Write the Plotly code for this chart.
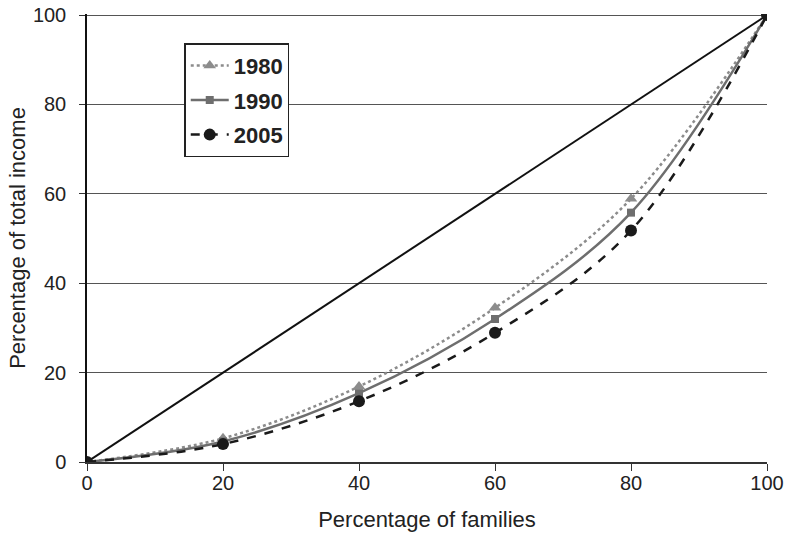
import plotly.graph_objects as go

families = [0, 20, 40, 60, 80, 100]
income_1980 = [0, 5.3, 16.9, 34.5, 58.9, 100]
income_1990 = [0, 4.6, 15.4, 32.0, 55.8, 100]
income_2005 = [0, 4.0, 13.6, 28.9, 51.8, 100]
equality = [0, 100]
tick_vals = [0, 20, 40, 60, 80, 100]

fig = go.Figure()
fig.add_trace(go.Scatter(x=equality, y=equality, mode="lines",
                         line=dict(color="#111111", width=2), showlegend=False, hoverinfo="skip"))
fig.add_trace(go.Scatter(x=families, y=income_1980, mode="lines+markers", name="<b>1980</b>",
                         legendgroup="a",
                         line=dict(color="#8c8c8c", width=2.5, dash="dot", shape="spline"),
                         marker=dict(symbol="triangle-up", size=11, color="#8c8c8c")))
fig.add_trace(go.Scatter(x=families, y=income_1990, mode="lines+markers", name="<b>1990</b>",
                         legendgroup="b",
                         line=dict(color="#6e6e6e", width=2.5, shape="spline"),
                         marker=dict(symbol="square", size=8, color="#6e6e6e")))
fig.add_trace(go.Scatter(x=families, y=income_2005, mode="lines+markers", name="<b>2005</b>",
                         legendgroup="c",
                         line=dict(color="#1a1a1a", width=2.5, dash="dash", shape="spline"),
                         marker=dict(symbol="circle", size=12, color="#1a1a1a")))

tick_font = dict(family="Liberation Sans, Arial, sans-serif", size=20, color="#222222")
title_font = dict(family="Liberation Sans, Arial, sans-serif", size=22, color="#222222")
fig.update_layout(
    width=787, height=533,
    margin=dict(l=87, r=20, t=14, b=71),
    paper_bgcolor="white", plot_bgcolor="white",
    font=tick_font,
    legend=dict(x=0.143, y=0.935, xanchor="left", yanchor="top",
                bgcolor="white", bordercolor="#222222", borderwidth=1.5,
                font=dict(family="Liberation Sans, Arial, sans-serif", size=22, color="#222222"),
                itemwidth=38, traceorder="grouped", tracegroupgap=3),
    xaxis=dict(range=[0, 100], tickvals=tick_vals, showgrid=False, automargin=False,
               showline=True, linecolor="#333333", linewidth=1.5, ticks="outside",
               ticklen=7, tickcolor="#333333", zeroline=False,
               tickfont=tick_font, ticklabelstandoff=-5, ticklabeloverflow="allow",
               title=dict(text="Percentage of families", font=title_font, standoff=19)),
    yaxis=dict(range=[0, 100.25], tickvals=tick_vals, showgrid=True, automargin=False,
               gridcolor="#555555", gridwidth=1,
               showline=True, linecolor="#111111", linewidth=1.5, ticks="outside",
               ticklen=6, tickcolor="#333333", zeroline=False,
               tickfont=tick_font, ticklabelstandoff=9, ticklabeloverflow="allow",
               title=dict(text="Percentage of total income", font=title_font, standoff=1)),
)
fig.write_html("out.html", config={"displayModeBar": False},
               post_script="document.body.style.margin='0';document.body.style.padding='0';")
